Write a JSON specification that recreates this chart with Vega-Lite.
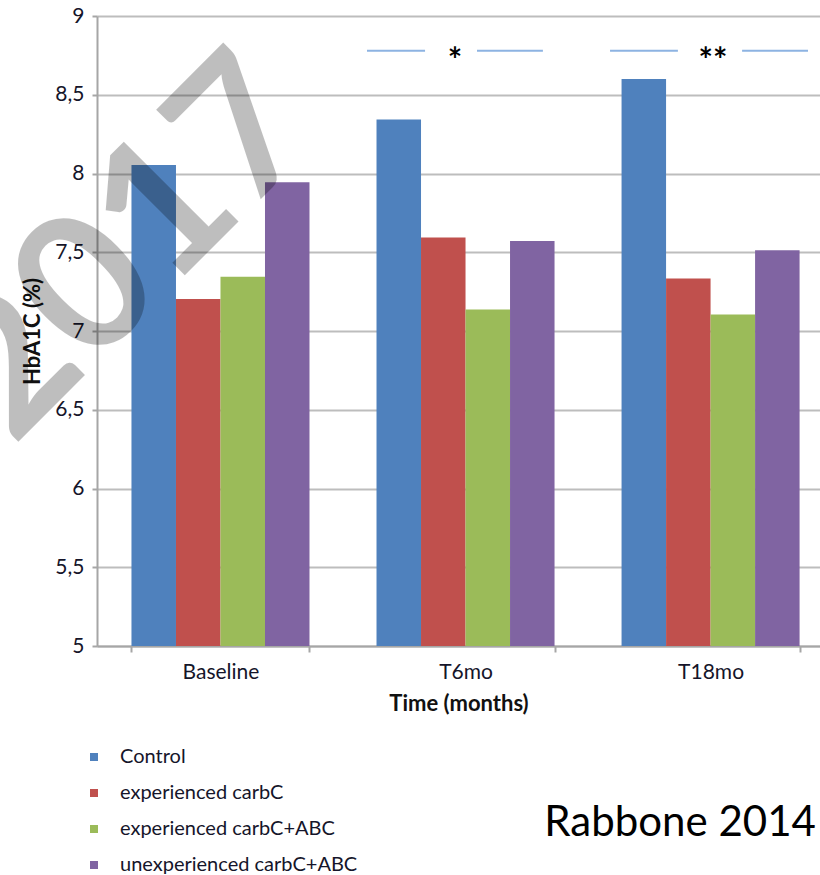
{
  "$schema": "https://vega.github.io/schema/vega-lite/v6.json",
  "autosize": {"type": "none"},
  "padding": {"left": 97, "top": 16, "right": 0, "bottom": 229},
  "width": 723,
  "height": 630,
  "background": "white",
  "config": {
    "view": {"stroke": null},
    "font": "Lato",
    "axis": {"labelFont": "Lato", "titleFont": "Lato", "labelColor": "#15152a", "titleColor": "#111"},
    "legend": {"labelFont": "Lato"}
  },
  "datasets": {
    "bars": [
      {"time": "Baseline", "group": "Control", "value": 8.054},
      {"time": "Baseline", "group": "experienced carbC", "value": 7.203},
      {"time": "Baseline", "group": "experienced carbC+ABC", "value": 7.345},
      {"time": "Baseline", "group": "unexperienced carbC+ABC", "value": 7.944},
      {"time": "T6mo", "group": "Control", "value": 8.343},
      {"time": "T6mo", "group": "experienced carbC", "value": 7.593},
      {"time": "T6mo", "group": "experienced carbC+ABC", "value": 7.136},
      {"time": "T6mo", "group": "unexperienced carbC+ABC", "value": 7.572},
      {"time": "T18mo", "group": "Control", "value": 8.6},
      {"time": "T18mo", "group": "experienced carbC", "value": 7.333},
      {"time": "T18mo", "group": "experienced carbC+ABC", "value": 7.104},
      {"time": "T18mo", "group": "unexperienced carbC+ABC", "value": 7.513}
    ],
    "sigLines": [
      {"from": 1.102, "to": 1.339, "y": 8.78},
      {"from": 1.551, "to": 1.82, "y": 8.78},
      {"from": 2.094, "to": 2.371, "y": 8.78},
      {"from": 2.633, "to": 2.902, "y": 8.78}
    ],
    "stars": [
      {"pos": 1.461, "y": 8.645, "label": "*"},
      {"pos": 2.514, "y": 8.645, "label": "**"}
    ],
    "notes": [
      {"pos": 1.826, "y": 3.794, "label": "Rabbone 2014"}
    ],
    "watermark": [
      {"pos": 0.294, "y": 7.254, "label": "2017"}
    ]
  },
  "layer": [
    {
      "data": {"name": "bars"},
      "mark": {"type": "bar"},
      "encoding": {
        "x": {
          "field": "time", "type": "nominal", "sort": ["Baseline", "T6mo", "T18mo"],
          "scale": {"paddingInner": 0.2735, "paddingOuter": 0.112, "align": 0.628},
          "axis": {
            "title": "Time (months)", "titleFontSize": 22, "titleFontWeight": "bold", "titlePadding": 11,
            "labelFontSize": 21, "labelAngle": 0, "labelPadding": 9,
            "tickBand": "extent", "ticks": true, "tickSize": 6, "tickColor": "#a6a6a6", "tickWidth": 2,
            "domainColor": "#a6a6a6", "domainWidth": 2, "grid": false
          }
        },
        "xOffset": {
          "field": "group", "type": "nominal",
          "sort": ["Control", "experienced carbC", "experienced carbC+ABC", "unexperienced carbC+ABC"],
          "scale": {"paddingInner": 0, "paddingOuter": 0}
        },
        "y": {
          "field": "value", "type": "quantitative",
          "scale": {"domain": [5, 9], "nice": false, "zero": false},
          "axis": {
            "title": "HbA1C (%)", "titleFontSize": 22, "titleFontWeight": "bold", "titlePadding": 10,
            "values": [5, 5.5, 6, 6.5, 7, 7.5, 8, 8.5, 9],
            "labelExpr": "replace(toString(datum.value), '.', ',')",
            "labelFontSize": 21, "labelPadding": 8,
            "tickSize": 5, "tickColor": "#a6a6a6", "tickWidth": 2,
            "domainColor": "#a6a6a6", "domainWidth": 2,
            "grid": true, "gridColor": "#bdbdbd", "gridWidth": 2
          }
        },
        "y2": {"datum": 5},
        "color": {
          "field": "group", "type": "nominal",
          "scale": {
            "domain": ["Control", "experienced carbC", "experienced carbC+ABC", "unexperienced carbC+ABC"],
            "range": ["#4f81bd", "#c0504d", "#9bbb59", "#8064a2"]
          },
          "legend": {
            "title": null, "orient": "none", "legendX": -13, "legendY": 731,
            "direction": "vertical", "symbolType": "square", "symbolSize": 64,
            "symbolStrokeWidth": 0, "labelFontSize": 20, "labelOffset": 16, "labelLimit": 400,
            "rowPadding": 16, "labelColor": "#15152a", "padding": 0
          }
        }
      }
    },
    {
      "data": {"name": "sigLines"},
      "mark": {"type": "rule", "color": "#8db3e2", "strokeWidth": 2},
      "encoding": {
        "x": {"field": "from", "type": "quantitative", "scale": {"domain": [0, 2.951], "nice": false, "zero": false}, "axis": null},
        "x2": {"field": "to"},
        "y": {"field": "y", "type": "quantitative"}
      }
    },
    {
      "data": {"name": "stars"},
      "mark": {"type": "text", "fontSize": 34, "fontWeight": "bold", "color": "#000", "align": "center", "baseline": "alphabetic", "font": "Lato"},
      "encoding": {
        "x": {"field": "pos", "type": "quantitative", "scale": {"domain": [0, 2.951], "nice": false, "zero": false}, "axis": null},
        "y": {"field": "y", "type": "quantitative"},
        "text": {"field": "label"}
      }
    },
    {
      "data": {"name": "notes"},
      "mark": {"type": "text", "fontSize": 42, "color": "#000", "align": "left", "baseline": "alphabetic", "font": "Lato"},
      "encoding": {
        "x": {"field": "pos", "type": "quantitative", "scale": {"domain": [0, 2.951], "nice": false, "zero": false}, "axis": null},
        "y": {"field": "y", "type": "quantitative"},
        "text": {"field": "label"}
      }
    },
    {
      "data": {"name": "watermark"},
      "mark": {"type": "text", "fontSize": 190, "fontWeight": "bold", "color": "#000", "opacity": 0.25, "align": "center", "baseline": "alphabetic", "angle": -45, "font": "Lato"},
      "encoding": {
        "x": {"field": "pos", "type": "quantitative", "scale": {"domain": [0, 2.951], "nice": false, "zero": false}, "axis": null},
        "y": {"field": "y", "type": "quantitative"},
        "text": {"field": "label"}
      }
    }
  ],
  "resolve": {"scale": {"x": "independent", "color": "independent"}}
}
